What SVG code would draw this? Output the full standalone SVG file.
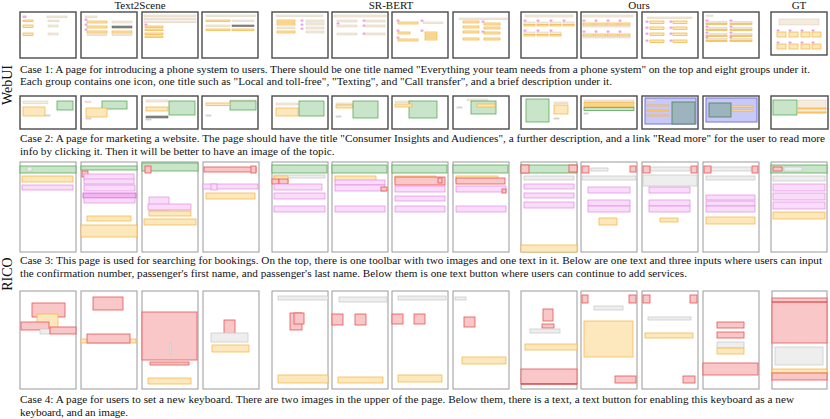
<svg xmlns="http://www.w3.org/2000/svg" width="830" height="419" viewBox="0 0 830 419">
<style>
text{font-family:"Liberation Serif","Times New Roman",serif;fill:#111}
.cap{font-size:11.2px}
.hd{font-size:11px;text-anchor:middle}
.side{font-size:14px;text-anchor:middle}
.fw{fill:#fff;stroke:#4a4a4a;stroke-width:1.4}
.fr{fill:#fff;stroke:#9a9a9a;stroke-width:1}
.t{fill:#f5ebdf;stroke:#dcc9b2;stroke-width:0.5}
.o{fill:#fde7bd;stroke:#f3b43a;stroke-width:0.7}
.p{fill:#f9dcf9;stroke:#e28ae2;stroke-width:0.7}
.pp{fill:#f2b4f2;stroke:#d85ad8;stroke-width:0.8}
.g{fill:#c9e5c9;stroke:#5ea85e;stroke-width:0.8}
.r{fill:#f9c7c7;stroke:#e55555;stroke-width:0.8}
.k{fill:#eeeeee;stroke:#c6c6c6;stroke-width:0.7}
.d{fill:#8a8a8a;stroke:#555;stroke-width:0.5}
.b{fill:#c9c9f8;stroke:#7474e0;stroke-width:1}
.gb{fill:#9db3bd;stroke:#4f8a60;stroke-width:0.9}
.dr{stroke:#c81e1e;stroke-width:0.9}
</style>

<!-- headers and side labels -->
<g id="headers">
<text class="hd" x="140" y="9">Text2Scene</text>
<text class="hd" x="391" y="9">SR-BERT</text>
<text class="hd" x="639" y="9">Ours</text>
<text class="hd" x="799" y="9">GT</text>
<text class="side" transform="translate(12,85) rotate(-90)">WebUI</text>
<text class="side" transform="translate(12,274) rotate(-90)">RICO</text>
</g>

<!-- ============ Case 1 (WebUI) ============ -->
<g id="case1">
<g id="c1-t2s-1" transform="translate(20,12)"><rect class="fw" width="56" height="46"/>
<rect class="p" x="3" y="4" width="3" height="1.5"/><rect class="t" x="27" y="4" width="20" height="1.8"/>
<rect class="o" x="3" y="8" width="10" height="1.5"/><rect class="t" x="28" y="8" width="11" height="1.8"/>
<rect class="o" x="3" y="13" width="10" height="2.5"/><rect class="t" x="28" y="13" width="10" height="2"/>
<rect class="o" x="3" y="21" width="10" height="2.5"/><rect class="t" x="28" y="21" width="10" height="2"/></g>

<g id="c1-t2s-2" transform="translate(81,12)"><rect class="fw" width="56" height="46"/>
<rect class="t" x="4" y="4" width="12" height="1.5"/>
<rect class="p" x="4" y="7" width="2" height="1.2"/><rect class="o" x="6" y="9" width="20" height="2"/><rect class="t" x="31" y="9" width="20" height="2"/>
<rect class="p" x="4" y="12" width="2" height="1.2"/><rect class="o" x="6" y="14" width="20" height="2"/><rect class="d" x="31" y="14" width="20" height="2"/>
<rect class="p" x="4" y="17" width="2" height="1.2"/><rect class="o" x="6" y="19" width="20" height="2"/><rect class="o" x="31" y="19" width="20" height="2"/>
<rect class="t" x="6" y="22" width="20" height="1.5"/><rect class="t" x="31" y="22" width="20" height="1.5"/></g>

<g id="c1-t2s-3" transform="translate(142,12)"><rect class="fw" width="56" height="46"/>
<rect class="t" x="2" y="3" width="52" height="1.5"/><rect class="t" x="2" y="6" width="52" height="1.5"/><rect class="t" x="2" y="9" width="52" height="1.5"/>
<rect class="p" x="3" y="12" width="2" height="1"/>
<rect class="o" x="3" y="14" width="18" height="1.5"/><rect class="o" x="3" y="17" width="18" height="1.5"/>
<rect class="o" x="3" y="21" width="18" height="1.5"/><rect class="o" x="3" y="24" width="18" height="1.5"/></g>

<g id="c1-t2s-4" transform="translate(202,12)"><rect class="fw" width="56" height="46"/>
<rect class="t" x="4" y="3" width="50" height="1.5"/>
<rect class="o" x="4" y="8" width="24" height="1.5"/><rect class="t" x="30" y="8" width="22" height="1.5"/>
<rect class="t" x="4" y="13" width="24" height="1.5"/><rect class="d" x="30" y="13" width="22" height="1.5"/>
<rect class="o" x="4" y="17" width="24" height="1.5"/><rect class="o" x="30" y="17" width="22" height="1.5"/></g>

<g id="c1-sr-1" transform="translate(272,12)"><rect class="fw" width="56" height="46"/>
<rect class="t" x="4" y="3" width="47" height="1.5"/>
<rect class="o" x="5" y="8" width="18" height="2"/><rect class="o" x="5" y="11" width="18" height="2"/>
<rect class="t" x="5" y="15" width="18" height="1.5"/><rect class="o" x="5" y="19" width="18" height="2"/>
<rect class="p" x="29" y="8" width="2" height="1.2"/><rect class="p" x="29" y="12" width="2" height="1.2"/><rect class="p" x="29" y="16" width="2" height="1.2"/>
<rect class="t" x="34" y="8" width="18" height="2"/><rect class="t" x="34" y="11" width="18" height="2"/>
<rect class="t" x="34" y="15" width="18" height="2"/><rect class="t" x="34" y="19" width="18" height="2"/></g>

<g id="c1-sr-2" transform="translate(332,12)"><rect class="fw" width="56" height="46"/>
<rect class="t" x="2" y="3" width="52" height="2"/>
<rect class="t" x="5" y="8" width="20" height="2"/><rect class="t" x="5" y="13" width="20" height="2"/><rect class="t" x="5" y="21" width="20" height="2"/>
<rect class="p" x="5" y="11" width="2" height="1"/>
<rect class="p" x="31" y="8" width="2" height="1.2"/><rect class="p" x="31" y="13" width="2" height="1.2"/><rect class="p" x="31" y="21" width="2" height="1.2"/>
<rect class="t" x="33" y="8" width="20" height="2"/><rect class="t" x="33" y="13" width="20" height="2"/><rect class="t" x="33" y="21" width="20" height="2"/></g>

<g id="c1-sr-3" transform="translate(392,12)"><rect class="fw" width="56" height="46"/>
<rect class="p" x="5" y="8" width="2" height="1.2"/><rect class="o" x="6" y="10" width="20" height="2"/>
<rect class="p" x="29" y="8" width="2" height="1.2"/><rect class="t" x="31" y="10" width="20" height="1.5"/>
<rect class="p" x="5" y="18" width="2" height="1.2"/><rect class="o" x="6" y="20" width="12" height="2"/>
<rect class="p" x="5" y="25" width="2" height="1.2"/><rect class="o" x="6" y="27" width="20" height="2"/>
<rect class="p" x="29" y="18" width="2" height="1.2"/><rect class="o" x="33" y="20" width="12" height="2"/>
<rect class="o" x="33" y="23" width="12" height="2"/><rect class="o" x="33" y="26" width="12" height="2"/></g>

<g id="c1-sr-4" transform="translate(453,12)"><rect class="fw" width="56" height="46"/>
<rect class="t" x="6" y="6" width="49" height="1.5"/>
<rect class="o" x="10" y="9" width="16" height="2"/><rect class="o" x="10" y="14" width="16" height="2"/>
<rect class="o" x="10" y="19" width="16" height="2"/><rect class="o" x="10" y="26" width="16" height="2"/>
<rect class="p" x="29" y="9" width="2" height="1.2"/><rect class="p" x="29" y="19" width="2" height="1.2"/>
<rect class="o" x="31" y="11" width="16" height="2"/><rect class="o" x="31" y="15" width="16" height="2"/>
<rect class="o" x="31" y="20" width="16" height="2"/><rect class="o" x="31" y="26" width="16" height="2"/></g>

<g id="c1-ours-1" transform="translate(521,12)"><rect class="fw" width="56" height="46"/>
<rect class="t" x="4" y="3" width="48" height="2"/>
<g id="c1o1a"><rect class="p" x="3" y="8" width="2" height="1.2"/><rect class="t" x="3" y="10" width="11" height="2.5"/><rect class="o" x="3" y="12.5" width="11" height="1.5"/></g>
<use href="#c1o1a" x="13"/><use href="#c1o1a" x="26"/><use href="#c1o1a" x="39"/>
<use href="#c1o1a" y="10"/><use href="#c1o1a" x="13" y="10"/><use href="#c1o1a" x="26" y="10"/></g>

<g id="c1-ours-2" transform="translate(581,12)"><rect class="fw" width="56" height="46"/>
<rect class="t" x="2" y="3" width="50" height="2"/>
<g id="c1o2a"><rect class="p" x="2" y="8" width="2" height="1.2"/><rect class="o" x="2" y="11" width="11" height="2"/><rect class="t" x="2" y="13.5" width="11" height="1.5"/></g>
<use href="#c1o2a" x="12"/><use href="#c1o2a" x="24"/><use href="#c1o2a" x="36"/>
<use href="#c1o2a" y="11"/><use href="#c1o2a" x="12" y="11"/><use href="#c1o2a" x="24" y="11"/><use href="#c1o2a" x="36" y="11"/></g>

<g id="c1-ours-3" transform="translate(642,12)"><rect class="fw" width="56" height="46"/>
<rect class="t" x="5" y="5" width="45" height="1.5"/>
<g id="c1o3a"><rect class="p" x="4" y="9" width="2" height="1.2"/><rect class="o" x="8" y="9" width="14" height="2.5"/><rect class="p" x="28" y="9" width="2" height="1.2"/><rect class="o" x="31" y="9" width="14" height="2.5"/></g>
<use href="#c1o3a" y="6"/><use href="#c1o3a" y="12"/><use href="#c1o3a" y="19"/></g>

<g id="c1-ours-4" transform="translate(703,12)"><rect class="fw" width="56" height="46"/>
<rect class="t" x="3" y="3" width="7" height="1.2"/>
<g id="c1o4a"><rect class="p" x="3" y="8" width="2" height="1"/><rect class="t" x="3" y="9.5" width="21" height="1.5"/><rect class="o" x="3" y="11.5" width="21" height="1"/>
<rect class="p" x="27" y="8" width="2" height="1"/><rect class="t" x="27" y="9.5" width="22" height="1.5"/><rect class="o" x="27" y="11.5" width="22" height="1"/></g>
<use href="#c1o4a" y="6"/><use href="#c1o4a" y="12"/><use href="#c1o4a" y="17"/></g>

<g id="c1-gt" transform="translate(771,12)"><rect class="fw" width="56" height="43"/>
<rect class="t" x="8" y="7" width="40" height="6"/>
<g id="c1gta"><rect class="p" x="6" y="18" width="2" height="1"/><rect class="o" x="6" y="20" width="9" height="5"/></g>
<use href="#c1gta" x="12"/><use href="#c1gta" x="24"/><use href="#c1gta" x="35"/>
<use href="#c1gta" y="12"/><use href="#c1gta" x="12" y="12"/><use href="#c1gta" x="24" y="12"/><use href="#c1gta" x="35" y="12"/></g>

<text class="cap" x="20" y="73" textLength="790" lengthAdjust="spacing">Case 1: A page for introducing a phone system to users. There should be one title named "Everything your team needs from a phone system" on the top and eight groups under it.</text>
<text class="cap" x="20" y="85" textLength="592" lengthAdjust="spacing">Each group contains one icon, one title such as "Local and toll-free", "Texting", and "Call transfer", and a brief description under it.</text>
</g>

<!-- ============ Case 2 (WebUI) ============ -->
<g id="case2">
<g id="c2-t2s-1" transform="translate(20,96)"><rect class="fw" width="56" height="33"/>
<rect class="t" x="3" y="5" width="25" height="2.5"/><rect class="o" x="3" y="11" width="22" height="9"/>
<rect class="g" x="37" y="5" width="16" height="9"/><rect class="k" x="25" y="19" width="5" height="1"/></g>
<g id="c2-t2s-2" transform="translate(81,96)"><rect class="fw" width="56" height="33"/>
<rect class="t" x="4" y="5" width="6" height="1.5"/><rect class="g" x="21" y="5" width="25" height="8"/>
<rect class="o" x="5" y="12" width="21" height="9"/><rect class="k" x="5" y="22" width="5" height="1"/></g>
<g id="c2-t2s-3" transform="translate(142,96)"><rect class="fw" width="56" height="33"/>
<rect class="t" x="4" y="4" width="22" height="2"/><rect class="o" x="4" y="11" width="22" height="4"/>
<rect class="d" x="4" y="20" width="22" height="2"/><rect class="g" x="27" y="5" width="26" height="14"/><rect class="k" x="4" y="23" width="5" height="1"/></g>
<g id="c2-t2s-4" transform="translate(202,96)"><rect class="fw" width="56" height="33"/>
<rect class="t" x="28" y="4" width="26" height="1"/><rect class="g" x="28" y="5" width="26" height="9"/>
<rect class="o" x="4" y="7" width="24" height="2.5"/><rect class="k" x="4" y="19" width="5" height="1"/></g>
<g id="c2-sr-1" transform="translate(272,96)"><rect class="fw" width="56" height="33"/>
<rect class="t" x="4" y="7" width="22" height="2"/><rect class="o" x="4" y="12" width="22" height="8"/>
<rect class="g" x="27" y="5" width="25" height="15"/></g>
<g id="c2-sr-2" transform="translate(332,96)"><rect class="fw" width="56" height="33"/>
<rect class="t" x="4" y="7" width="17" height="1.5"/><rect class="o" x="4" y="9" width="17" height="3"/>
<rect class="g" x="21" y="5" width="25" height="17"/><rect class="k" x="4" y="20" width="5" height="1"/></g>
<g id="c2-sr-3" transform="translate(392,96)"><rect class="fw" width="56" height="33"/>
<rect class="t" x="3" y="5" width="17" height="1.5"/><rect class="g" x="17" y="5" width="28" height="17"/>
<rect class="o" x="3" y="8" width="17" height="3"/></g>
<g id="c2-sr-4" transform="translate(453,96)"><rect class="fw" width="56" height="33"/>
<rect class="t" x="14" y="3" width="21" height="1.5"/><rect class="g" x="18" y="5" width="25" height="13"/>
<rect class="o" x="24" y="8" width="18" height="3"/><rect class="k" x="4" y="11" width="5" height="1"/></g>
<g id="c2-ours-1" transform="translate(521,96)"><rect class="fw" width="56" height="33"/>
<rect class="g" x="5" y="3" width="23" height="23"/><rect class="t" x="33" y="6" width="14" height="1.5"/>
<rect class="o" x="33" y="9" width="14" height="9"/><rect class="k" x="33" y="22" width="5" height="1"/></g>
<g id="c2-ours-2" transform="translate(581,96)"><rect class="fw" width="56" height="33"/>
<rect class="t" x="3" y="4" width="50" height="1.5"/><rect class="o" x="3" y="6.5" width="50" height="1.5"/>
<rect class="o" x="3" y="9" width="50" height="1.5"/><rect class="g" x="3" y="11.5" width="50" height="3"/><rect class="k" x="3" y="17" width="4" height="1"/></g>
<g id="c2-ours-3" transform="translate(642,96)"><rect class="fw" width="56" height="33"/>
<rect class="b" x="3" y="2" width="51" height="26"/><rect class="gb" x="30" y="6" width="23" height="22"/>
<rect class="t" x="5" y="4" width="8" height="1"/>
<rect class="o" x="5" y="9" width="22" height="1"/><rect class="o" x="5" y="14" width="22" height="1"/><rect class="o" x="5" y="19" width="22" height="1"/></g>
<g id="c2-ours-4" transform="translate(703,96)"><rect class="fw" width="56" height="33"/>
<rect class="b" x="3" y="2" width="51" height="24"/><rect class="gb" x="6" y="7" width="22" height="14"/>
<rect class="o" x="29" y="10" width="21" height="1.5"/><rect class="o" x="29" y="14" width="21" height="1.5"/></g>
<g id="c2-gt" transform="translate(771,96)"><rect class="fw" width="57" height="33"/>
<rect class="g" x="2" y="4" width="24" height="15"/><rect class="t" x="27" y="4" width="28" height="13"/>
<rect class="o" x="27" y="12" width="28" height="1"/><rect class="o" x="27" y="16" width="28" height="1"/></g>

<text class="cap" x="20" y="142" textLength="805" lengthAdjust="spacing">Case 2: A page for marketing a website. The page should have the title "Consumer Insights and Audiences", a further description, and a link "Read more" for the user to read more</text>
<text class="cap" x="20" y="155">info by clicking it. Then it will be better to have an image of the topic.</text>
</g>

<!-- ============ Case 3 (RICO) ============ -->
<g id="case3">
<g id="c3-t2s-1" transform="translate(20,162)"><rect class="fr" width="56" height="90"/>
<rect class="g" x="0" y="4" width="56" height="7"/><rect class="k" x="7" y="5" width="5" height="4"/>
<rect class="o" x="2" y="14" width="51" height="6"/><rect class="p" x="2" y="23" width="51" height="5"/></g>
<g id="c3-t2s-2" transform="translate(81,162)"><rect class="fr" width="56" height="90"/>
<rect class="g" x="0" y="4" width="56" height="4"/><rect class="r" x="1" y="9" width="6" height="6"/>
<rect class="p" x="3" y="12" width="50" height="6"/><rect class="p" x="3" y="17" width="50" height="5"/>
<rect class="p" x="3" y="23" width="51" height="6"/><rect class="pp" x="2" y="31" width="53" height="5"/>
<rect class="p" x="3" y="36" width="51" height="5"/><rect class="o" x="6" y="54" width="44" height="5"/>
<rect class="o" x="0" y="63" width="56" height="12"/></g>
<g id="c3-t2s-3" transform="translate(142,162)"><rect class="fr" width="56" height="90"/>
<rect class="g" x="0" y="1" width="56" height="8"/><rect class="r" x="3" y="4" width="6" height="7"/>
<rect class="p" x="7" y="35" width="20" height="13"/><rect class="p" x="6" y="42" width="43" height="6"/>
<rect class="o" x="7" y="49" width="42" height="5"/><rect class="o" x="2" y="57" width="52" height="6"/></g>
<g id="c3-t2s-4" transform="translate(203,162)"><rect class="fr" width="56" height="90"/>
<rect class="r" x="1" y="5" width="52" height="5"/><rect class="r" x="48" y="4" width="5" height="7"/>
<rect class="p" x="0" y="22" width="55" height="5"/><rect class="p" x="8" y="22" width="6" height="6"/>
<rect class="o" x="3" y="31" width="49" height="6"/></g>
<g id="c3-sr-1" transform="translate(272,162)"><rect class="fr" width="56" height="90"/>
<rect class="g" x="0" y="3" width="55" height="8"/><rect class="k" x="2" y="13" width="51" height="3"/>
<rect class="o" x="2" y="14" width="14" height="7"/><rect class="r" x="0" y="17" width="7" height="5"/><rect class="r" x="7" y="17" width="9" height="5"/>
<rect class="p" x="2" y="22" width="48" height="6"/><rect class="p" x="2" y="31" width="51" height="6"/><rect class="p" x="2" y="44" width="51" height="6"/></g>
<g id="c3-sr-2" transform="translate(332,162)"><rect class="fr" width="56" height="90"/>
<rect class="g" x="0" y="3" width="55" height="8"/><rect class="o" x="3" y="14" width="41" height="6"/>
<rect class="p" x="3" y="18" width="50" height="5"/><rect class="p" x="3" y="23" width="50" height="6"/>
<rect class="r" x="49" y="25" width="6" height="4"/><rect class="p" x="3" y="44" width="50" height="6"/></g>
<g id="c3-sr-3" transform="translate(392,162)"><rect class="fr" width="56" height="90"/>
<rect class="g" x="0" y="3" width="55" height="8"/><rect class="o" x="3" y="14" width="41" height="6"/>
<rect class="r" x="3" y="15" width="50" height="8"/><rect class="r" x="46" y="16" width="4" height="5"/>
<rect class="p" x="3" y="24" width="50" height="6"/><rect class="p" x="3" y="34" width="50" height="5"/><rect class="p" x="3" y="44" width="50" height="6"/></g>
<g id="c3-sr-4" transform="translate(453,162)"><rect class="fr" width="56" height="90"/>
<rect class="g" x="0" y="3" width="55" height="8"/><rect class="o" x="3" y="14" width="42" height="6"/>
<rect class="r" x="3" y="16" width="49" height="6"/><rect class="p" x="3" y="24" width="50" height="6"/>
<rect class="r" x="49" y="27" width="4" height="4"/><rect class="p" x="3" y="44" width="50" height="6"/></g>
<g id="c3-ours-1" transform="translate(521,162)"><rect class="fr" width="56" height="90"/>
<rect class="g" x="0" y="3" width="56" height="8"/><rect class="r" x="0" y="3" width="8" height="8"/><rect class="r" x="48" y="3" width="8" height="7"/>
<rect class="k" x="3" y="14" width="50" height="4"/><rect class="p" x="3" y="22" width="50" height="5"/>
<rect class="p" x="3" y="31" width="50" height="5"/><rect class="p" x="3" y="40" width="50" height="6"/><rect class="o" x="0" y="83" width="56" height="7"/></g>
<g id="c3-ours-2" transform="translate(581,162)"><rect class="fr" width="56" height="90"/>
<rect class="r" x="1" y="4" width="7" height="7"/><rect class="k" x="10" y="6" width="17" height="3"/><rect class="r" x="49" y="4" width="6" height="6"/>
<rect class="k" x="1" y="14" width="54" height="4"/><rect class="p" x="7" y="25" width="42" height="6"/>
<rect class="p" x="7" y="38" width="42" height="6"/><rect class="p" x="7" y="44" width="42" height="6"/><rect class="o" x="18" y="56" width="18" height="7"/></g>
<g id="c3-ours-3" transform="translate(642,162)"><rect class="fr" width="56" height="90"/>
<rect class="k" x="8" y="5" width="40" height="4"/><rect class="r" x="1" y="4" width="7" height="7"/><rect class="r" x="49" y="4" width="6" height="7"/>
<rect class="k" x="1" y="13" width="54" height="11"/><rect class="p" x="7" y="25" width="41" height="6"/>
<rect class="p" x="7" y="38" width="41" height="6"/><rect class="p" x="7" y="44" width="41" height="6"/><rect class="o" x="18" y="56" width="18" height="4"/></g>
<g id="c3-ours-4" transform="translate(703,162)"><rect class="fr" width="56" height="90"/>
<rect class="k" x="8" y="5" width="40" height="4"/><rect class="r" x="1" y="4" width="7" height="7"/><rect class="r" x="49" y="4" width="6" height="7"/>
<rect class="k" x="3" y="14" width="49" height="4"/><rect class="p" x="3" y="33" width="49" height="5"/>
<rect class="p" x="3" y="39" width="49" height="5"/><rect class="p" x="3" y="44" width="49" height="6"/><rect class="o" x="3" y="55" width="49" height="7"/></g>
<g id="c3-gt" transform="translate(771,162)"><rect class="fr" width="56" height="90"/>
<rect class="g" x="0" y="3" width="56" height="8"/><rect class="r" x="2" y="5" width="9" height="4"/><rect class="k" x="13" y="5" width="18" height="4"/>
<rect class="k" x="2" y="14" width="52" height="5"/><rect class="p" x="2" y="22" width="52" height="7"/>
<rect class="p" x="2" y="31" width="52" height="7"/><rect class="p" x="2" y="40" width="52" height="7"/><rect class="o" x="2" y="50" width="52" height="7"/></g>

<text class="cap" x="20" y="264" textLength="802" lengthAdjust="spacing">Case 3: This page is used for searching for bookings. On the top, there is one toolbar with two images and one text in it. Below are one text and three inputs where users can input</text>
<text class="cap" x="20" y="277" textLength="667" lengthAdjust="spacing">the confirmation number, passenger's first name, and passenger's last name. Below them is one text button where users can continue to add services.</text>
</g>

<!-- ============ Case 4 (RICO) ============ -->
<g id="case4">
<g id="c4-t2s-1" transform="translate(20,291)"><rect class="fr" width="56" height="98"/>
<rect class="r" x="12" y="12" width="33" height="14"/><rect class="o" x="17" y="23" width="21" height="15"/>
<rect class="r" x="1" y="31" width="28" height="8"/><rect class="k" x="20" y="38" width="10" height="5"/><rect class="r" x="30" y="36" width="26" height="7"/></g>
<g id="c4-t2s-2" transform="translate(81,291)"><rect class="fr" width="56" height="98"/>
<rect class="r" x="12" y="6" width="30" height="13"/><rect class="o" x="0" y="48" width="55" height="4"/><rect class="r" x="6" y="43" width="43" height="9"/></g>
<g id="c4-t2s-3" transform="translate(142,291)"><rect class="fr" width="56" height="98"/>
<rect class="r" x="0" y="21" width="55" height="48"/><rect class="k" x="28" y="52" width="1.2" height="11"/>
<rect class="r" x="8" y="71" width="39" height="3"/><rect class="o" x="6" y="87" width="43" height="6"/></g>
<g id="c4-t2s-4" transform="translate(203,291)"><rect class="fr" width="56" height="98"/>
<rect class="r" x="21" y="29" width="11" height="14"/><rect class="k" x="8" y="42" width="37" height="9"/><rect class="o" x="9" y="54" width="37" height="7"/></g>
<g id="c4-sr-1" transform="translate(272,291)"><rect class="fr" width="56" height="98"/>
<rect class="k" x="6" y="5" width="50" height="4"/><rect class="r" x="18" y="22" width="12" height="17"/><rect class="r" x="22" y="22" width="10" height="11"/>
<rect class="o" x="6" y="84" width="50" height="8"/></g>
<g id="c4-sr-2" transform="translate(332,291)"><rect class="fr" width="56" height="98"/>
<rect class="k" x="7" y="6" width="48" height="5"/><rect class="r" x="0" y="23" width="11" height="11"/><rect class="r" x="23" y="23" width="11" height="11"/>
<rect class="o" x="6" y="86" width="45" height="6"/></g>
<g id="c4-sr-3" transform="translate(392,291)"><rect class="fr" width="56" height="98"/>
<rect class="k" x="6" y="5" width="48" height="4"/><rect class="r" x="0" y="23" width="11" height="10"/><rect class="r" x="22" y="23" width="11" height="10"/>
<rect class="o" x="6" y="84" width="44" height="7"/></g>
<g id="c4-sr-4" transform="translate(453,291)"><rect class="fr" width="56" height="98"/>
<rect class="k" x="2" y="6" width="11" height="3"/><rect class="r" x="11" y="26" width="11" height="10"/><rect class="o" x="9" y="66" width="44" height="7"/></g>
<g id="c4-ours-1" transform="translate(521,291)"><rect class="fr" width="56" height="98"/>
<rect class="r" x="22" y="18" width="10" height="12"/><rect class="r" x="21" y="33" width="12" height="4"/><rect class="k" x="9" y="38" width="30" height="4"/>
<rect class="o" x="4" y="53" width="52" height="6"/><rect class="r" x="0" y="78" width="56" height="15"/><line class="dr" x1="0" y1="93" x2="56" y2="93"/></g>
<g id="c4-ours-2" transform="translate(581,291)"><rect class="fr" width="56" height="98"/>
<rect class="r" x="1" y="4" width="6" height="8"/><rect class="r" x="48" y="4" width="7" height="8"/><rect class="k" x="13" y="15" width="29" height="4"/>
<rect class="o" x="3" y="30" width="49" height="36"/><rect class="r" x="34" y="85" width="21" height="7"/></g>
<g id="c4-ours-3" transform="translate(642,291)"><rect class="fr" width="56" height="98"/>
<rect class="r" x="1" y="4" width="7" height="8"/><rect class="r" x="48" y="4" width="7" height="8"/><rect class="k" x="6" y="26" width="43" height="3"/>
<rect class="o" x="3" y="42" width="48" height="5"/><rect class="r" x="41" y="85" width="12" height="7"/></g>
<g id="c4-ours-4" transform="translate(703,291)"><rect class="fr" width="56" height="98"/>
<rect class="r" x="14" y="31" width="27" height="6"/><rect class="r" x="14" y="41" width="27" height="6"/><rect class="k" x="14" y="51" width="27" height="6"/>
<rect class="o" x="14" y="57" width="27" height="6"/><rect class="r" x="0" y="72" width="55" height="12"/></g>
<g id="c4-gt" transform="translate(772,291)"><rect class="fr" width="55" height="98"/>
<rect class="r" x="0" y="7" width="55" height="45"/><line class="dr" x1="0" y1="11" x2="55" y2="11"/>
<rect class="k" x="3" y="56" width="48" height="18"/><rect class="o" x="0" y="78" width="55" height="4"/><rect class="r" x="0" y="82" width="55" height="7"/></g>

<text class="cap" x="20" y="403" textLength="774" lengthAdjust="spacing">Case 4: A page for users to set a new keyboard. There are two images in the upper of the page. Below them, there is a text, a text button for enabling this keyboard as a new</text>
<text class="cap" x="20" y="416" textLength="108" lengthAdjust="spacing">keyboard, and an image.</text>
</g>
</svg>
